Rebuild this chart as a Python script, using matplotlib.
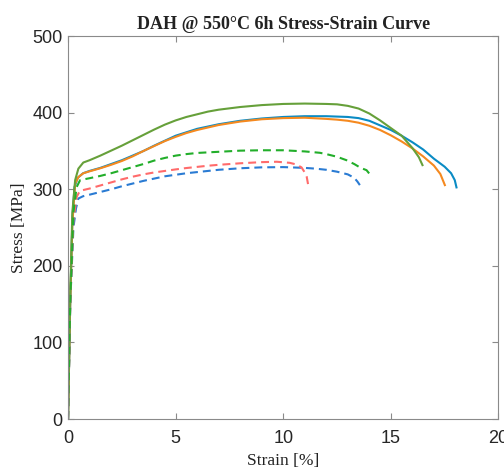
import matplotlib
matplotlib.use('Agg')
import matplotlib.pyplot as plt

# Stress-strain data (strain in %, stress in MPa)
strain_s1 = [0, 0.1, 0.2, 0.3, 0.45, 0.7, 1, 1.5, 2, 2.5, 3, 3.5, 4, 5, 6, 7, 8, 9, 10, 11, 12, 13, 13.5, 14,
	14.5, 15, 15.5, 16, 16.5, 17, 17.5, 17.8, 17.97, 18.05]
stress_s1 = [0, 150, 260, 303, 315, 321, 324, 328, 333, 338, 344, 350, 357, 370, 379, 385, 389.5, 392.5, 394.5, 395.5, 395.5, 394.5, 393, 389.5,
	383.5, 377.5, 370, 361.5, 352, 340, 329.5, 321, 312, 302.5]

strain_s2 = [0, 0.1, 0.2, 0.33, 0.48, 0.71, 1, 1.5, 2, 2.5, 3, 3.5, 4, 4.5, 5, 5.5, 6, 7, 8, 9, 10, 11, 12, 12.5,
	13, 13.5, 14, 14.5, 15, 15.5, 16, 16.5, 17, 17.3, 17.51]
stress_s2 = [0, 150, 255, 307.6, 316, 321, 323.5, 327.5, 332, 337, 343, 350, 356.5, 363, 368.5, 373.5, 377.5, 384, 388.5, 391.5, 393, 393.5, 392, 391,
	389.5, 387, 383, 377.5, 370.5, 362.5, 353.5, 343, 331, 320, 305.5]

strain_s3 = [0, 0.1, 0.2, 0.33, 0.48, 0.71, 1, 1.5, 2, 2.5, 3, 3.5, 4, 4.5, 5, 5.5, 6, 6.5, 7, 8, 9, 10, 11, 12,
	12.5, 13, 13.5, 14, 14.5, 15, 15.5, 16, 16.3, 16.47]
stress_s3 = [0, 160, 270, 312, 327, 335, 338, 344, 350.5, 357, 364, 371, 378, 384.5, 390, 394.5, 398, 401.5, 404, 407.5, 410, 411.5, 412, 411.5,
	411, 409, 405.5, 399, 390, 380, 370, 354, 342, 331.6]

strain_d1 = [0, 0.1, 0.25, 0.37, 0.48, 0.7, 1, 1.5, 2, 2.5, 3, 3.5, 4, 4.5, 5, 5.5, 6, 6.5, 7, 8, 9, 10, 11, 11.5,
	12, 12.5, 13, 13.3, 13.45, 13.56]
stress_d1 = [0, 150, 250, 275, 288, 291, 293, 296.5, 300, 304, 307.5, 311, 314, 317, 319, 321, 322.5, 324, 325.5, 327.5, 328.7, 329, 328, 327,
	325.5, 323, 319.5, 315, 310, 305.5]

strain_d2 = [0, 0.1, 0.25, 0.4, 0.55, 1, 1.5, 2, 2.5, 3, 3.5, 4, 4.5, 5, 5.5, 6, 6.5, 7, 8, 9, 9.7, 10.3, 10.6,
	10.85, 11, 11.09, 11.16]
stress_d2 = [0, 150, 260, 290, 298, 301, 305, 309, 313, 316.5, 319.5, 322, 324, 326, 327.8, 329.3, 330.8, 332, 334, 335.5, 336, 334.6, 332.5,
	328.6, 322, 316.4, 305.5]

strain_d3 = [0, 0.1, 0.25, 0.4, 0.56, 1, 1.5, 2, 2.5, 3, 3.5, 4, 4.5, 5, 5.5, 6, 7, 8, 9, 10, 11, 11.7, 12, 12.5,
	12.94, 13.3, 13.6, 13.87, 14.1]
stress_d3 = [0, 150, 270, 303, 312, 314.5, 317.5, 321, 325, 329, 333, 337.5, 341, 344, 346, 347.5, 349, 350.5, 351, 351, 349.5, 347.7, 346, 342.5,
	338, 333, 328, 325, 317]

fig = plt.figure(figsize=(5.04, 4.70), dpi=100)
ax = fig.add_axes([0.135, 0.1085, 0.854, 0.8145])

# solid curves
ax.plot(strain_s1, stress_s1, color='#0a8bc4', lw=1.5)
ax.plot(strain_s2, stress_s2, color='#f5891f', lw=1.5)
ax.plot(strain_s3, stress_s3, color='#66a03a', lw=1.5)

# dashed curves
ax.plot(strain_d1, stress_d1, color='#2a7bd3', lw=1.5, dashes=(3.8, 2.4))
ax.plot(strain_d2, stress_d2, color='#ff6b6b', lw=1.5, dashes=(3.8, 2.4))
ax.plot(strain_d3, stress_d3, color='#22ae2a', lw=1.5, dashes=(3.8, 2.4))

ax.set_xlim(0, 20)
ax.set_ylim(0, 500)
ax.set_xticks([0, 5, 10, 15, 20])
ax.set_yticks([0, 100, 200, 300, 400, 500])

for s in ax.spines.values():
	s.set_color('#8a8a8a')
	s.set_linewidth(0.8)
ax.tick_params(direction='in', length=4, width=0.8, color='#8a8a8a', top=True, right=True,
	labelsize=13, labelcolor='#262626', pad=4)
ax.tick_params(axis='x', pad=8)
for lb in ax.get_xticklabels() + ax.get_yticklabels():
	lb.set_fontfamily('Liberation Sans')

ax.set_title('DAH @ 550°C 6h Stress-Strain Curve', fontfamily='Liberation Serif',
	fontweight='bold', fontsize=13, color='#222222', pad=5)
ax.set_xlabel('Strain [%]', fontfamily='Liberation Serif', fontsize=12.5, color='#222222', labelpad=4)
ax.set_ylabel('Stress [MPa]', fontfamily='Liberation Serif', fontsize=12.5, color='#222222', labelpad=4)

fig.savefig('out.png', dpi=100)
